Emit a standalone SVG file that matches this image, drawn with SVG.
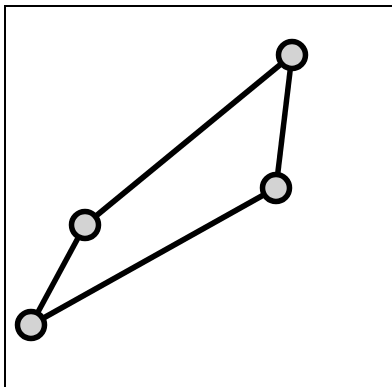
<svg xmlns="http://www.w3.org/2000/svg" width="392" height="387" viewBox="0 0 392 387">
<style>
.edge{stroke:#000;stroke-width:5.5;fill:none}
.node{fill:#d3d3d3;stroke:#000;stroke-width:5.5}
</style>
<rect x="0" y="0" width="392" height="387" fill="#fff"/>
<rect x="5" y="6" width="420" height="420" fill="none" stroke="#000" stroke-width="2"/>
<g id="connectors">
<line class="edge" x1="292" y1="55" x2="85" y2="225"/>
<line class="edge" x1="292" y1="55" x2="276" y2="188"/>
<line class="edge" x1="276" y1="188" x2="31" y2="325"/>
<line class="edge" x1="85" y1="225" x2="31" y2="325"/>
</g>
<g id="n1"><circle class="node" cx="292" cy="55" r="13.5"/></g>
<g id="n2"><circle class="node" cx="276" cy="188" r="13.5"/></g>
<g id="n3"><circle class="node" cx="85" cy="225" r="13.5"/></g>
<g id="n4"><circle class="node" cx="31" cy="325" r="13.5"/></g>
</svg>
